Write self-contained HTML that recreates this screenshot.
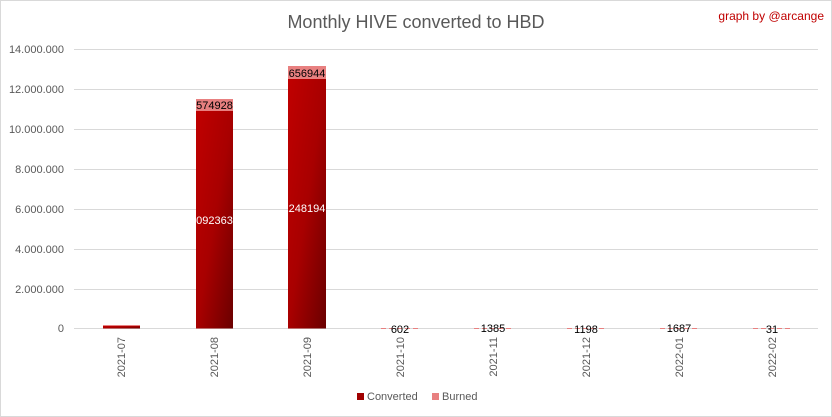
<!DOCTYPE html>
<html><head><style>
body{margin:0;background:#fff;}
svg{display:block;font-family:"Liberation Sans",sans-serif;}
</style></head><body>
<svg width="832" height="417" viewBox="0 0 832 417">
<defs>
<linearGradient id="g" x1="0" y1="0" x2="1" y2="1">
<stop offset="0" stop-color="#c00000"/><stop offset="0.5" stop-color="#a80000"/><stop offset="1" stop-color="#6a0000"/>
</linearGradient>
</defs>
<rect x="0.5" y="0.5" width="831" height="416" fill="#fff" stroke="#d9d9d9"/>
<text x="416" y="28" font-size="18" fill="#595959" text-anchor="middle">Monthly HIVE converted to HBD</text>
<text x="824" y="20" font-size="12" fill="#c00000" text-anchor="end">graph by @arcange</text>
<g stroke="#d9d9d9" stroke-width="1">
<line x1="74" x2="818" y1="49.5" y2="49.5"/>
<line x1="74" x2="818" y1="89.5" y2="89.5"/>
<line x1="74" x2="818" y1="129.5" y2="129.5"/>
<line x1="74" x2="818" y1="169.5" y2="169.5"/>
<line x1="74" x2="818" y1="209.5" y2="209.5"/>
<line x1="74" x2="818" y1="249.5" y2="249.5"/>
<line x1="74" x2="818" y1="289.5" y2="289.5"/>
<line x1="74" x2="818" y1="328.5" y2="328.5"/>
</g>
<g font-size="11" fill="#595959" text-anchor="end">
<text x="64" y="53">14.000.000</text>
<text x="64" y="93">12.000.000</text>
<text x="64" y="133">10.000.000</text>
<text x="64" y="173">8.000.000</text>
<text x="64" y="213">6.000.000</text>
<text x="64" y="253">4.000.000</text>
<text x="64" y="293">2.000.000</text>
<text x="64" y="332">0</text>
</g>
<rect x="103" y="326" width="37" height="2.5" fill="url(#g)"/>
<rect x="103" y="325" width="37" height="1" fill="#e88080"/>
<rect x="196" y="111" width="37" height="217.5" fill="url(#g)"/>
<rect x="196" y="99" width="37" height="12" fill="#e88080"/>
<rect x="288" y="79" width="38" height="249.5" fill="url(#g)"/>
<rect x="288" y="66" width="38" height="13" fill="#e88080"/>
<text x="214.5" y="109" font-size="11" fill="#000" text-anchor="middle">574928</text>
<text x="307" y="77" font-size="11" fill="#000" text-anchor="middle">656944</text>
<svg x="196" y="210" width="37" height="20"><text x="18.5" y="14" font-size="11" fill="#fff" text-anchor="middle">10923634</text></svg>
<svg x="288" y="198" width="38" height="20"><text x="19" y="14" font-size="11" fill="#fff" text-anchor="middle">12481946</text></svg>
<g stroke="#e88080" stroke-width="1" stroke-dasharray="5,3">
<line x1="381" x2="419" y1="328.5" y2="328.5"/>
<line x1="474" x2="512" y1="328.5" y2="328.5"/>
<line x1="567" x2="605" y1="328.5" y2="328.5"/>
<line x1="660" x2="698" y1="328.5" y2="328.5"/>
<line x1="753" x2="791" y1="328.5" y2="328.5"/>
</g>
<g font-size="11" fill="#000" text-anchor="middle">
<text x="400" y="333">602</text>
<text x="493" y="332">1385</text>
<text x="586" y="333">1198</text>
<text x="679" y="332">1687</text>
<text x="772" y="333">31</text>
</g>
<g font-size="11" fill="#595959" text-anchor="end">
<text transform="translate(125,337) rotate(-90)">2021-07</text>
<text transform="translate(218,337) rotate(-90)">2021-08</text>
<text transform="translate(311,337) rotate(-90)">2021-09</text>
<text transform="translate(404,337) rotate(-90)">2021-10</text>
<text transform="translate(497,337) rotate(-90)">2021-11</text>
<text transform="translate(590,337) rotate(-90)">2021-12</text>
<text transform="translate(683,337) rotate(-90)">2022-01</text>
<text transform="translate(776,337) rotate(-90)">2022-02</text>
</g>
<rect x="357" y="393" width="7" height="7" fill="#a00000"/>
<text x="367" y="400" font-size="11" fill="#595959">Converted</text>
<rect x="432" y="393" width="7" height="7" fill="#e88080"/>
<text x="442" y="400" font-size="11" fill="#595959">Burned</text>
</svg>
</body></html>
